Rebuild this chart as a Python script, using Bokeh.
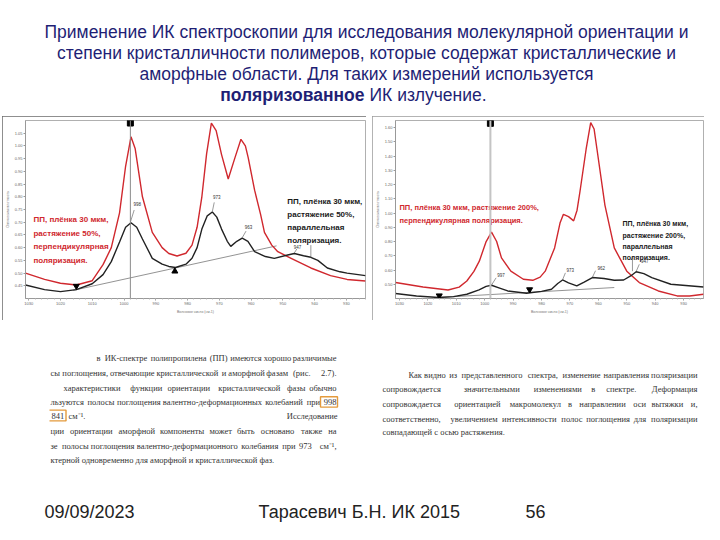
from bokeh.plotting import figure
from bokeh.layouts import column, row
from bokeh.models import Range1d, FixedTicker, NumeralTickFormatter, Spacer, Span
from bokeh.embed import file_html
from bokeh.resources import INLINE
from bokeh.core.properties import value

# ---------------- text content ----------------
TITLE_LINES = [
    "Применение ИК спектроскопии для исследования молекулярной ориентации и",
    "степени кристалличности полимеров, которые содержат кристаллические и",
    "аморфные области. Для таких измерений используется",
]
TITLE_BOLD = "поляризованное"
TITLE_TAIL = "ИК излучение."

FOOTER_DATE = "09/09/2023"
FOOTER_AUTHOR = "Тарасевич Б.Н.  ИК 2015"
FOOTER_PAGE = "56"

# left text block: a cropped scan, so line starts are cut off as in the slide
LEFT_TEXT = [
    "в ИК-спектре полипропилена (ПП) имеются хорошо различимые",
    "сы поглощения, отвечающие кристаллической и аморфной фазам (рис. 2.7).",
    "характеристики функции ориентации кристаллической фазы обычно",
    "льзуются полосы поглощения валентно-деформационных колебаний при 998",
    "841",
    "ции ориентации аморфной компоненты может быть основано также на",
    "зе полосы поглощения валентно-деформационного колебания при 973 см⁻¹,",
    "ктерной одновременно для аморфной и кристаллической фаз.",
]
LEFT_TEXT_UNIT = "см⁻¹."
LEFT_TEXT_RIGHT_WORD = "Исследование"
RIGHT_TEXT = [
    "Как видно из представленного спектра, изменение направления поляризации",
    "сопровождается значительными изменениями в спектре. Деформация",
    "сопровождается ориентацией макромолекул в направлении оси вытяжки и,",
    "соответственно, увеличением интенсивности полос поглощения для поляризации",
    "совпадающей с осью растяжения.",
]

# ---------------- spectra data ----------------
X_TICKS = [1030, 1020, 1010, 1000, 990, 980, 970, 960, 950, 940, 930]
LEFT_Y_TICKS = [0.45, 0.50, 0.55, 0.60, 0.65, 0.70, 0.75, 0.80, 0.85, 0.90, 0.95, 1.00, 1.05]
RIGHT_Y_TICKS = [0.50, 0.60, 0.70, 0.80, 0.90, 1.00, 1.10, 1.20, 1.30, 1.40, 1.50, 1.60]

# left: stretch 50 %, perpendicular (red)
L_PERP_WN = [1031, 1025, 1020, 1015, 1010, 1006.6, 1004, 1001.4, 999.5, 997.8, 996.5, 994.2,
             991.1, 988, 985.9, 983.3, 980.5, 978.6, 977, 975.5, 974, 972.5, 971, 969.3,
             967.2, 965.1, 963.2, 961.8, 960.9, 958.9, 957, 955.8, 953.5, 951.6, 947.4,
             941.2, 935, 929.8, 924]
L_PERP_A = [0.500, 0.475, 0.460, 0.453, 0.470, 0.533, 0.600, 0.737, 0.920, 1.036, 0.990, 0.800,
            0.660, 0.600, 0.577, 0.567, 0.578, 0.610, 0.680, 0.800, 0.970, 1.090, 1.060, 0.966,
            0.870, 0.953, 1.026, 1.000, 0.953, 0.826, 0.730, 0.660, 0.610, 0.584, 0.558,
            0.520, 0.490, 0.475, 0.469]
# left: stretch 50 %, parallel (black)
L_PAR_WN = [1031, 1025, 1020, 1015, 1010, 1006.6, 1004, 1001.4, 999.5, 997.8, 996, 994.2,
            991.1, 988, 985.9, 983.8, 980.5, 978.6, 977, 975.5, 973.8, 972.2, 970.8, 969.3,
            967.5, 966.4, 964.5, 962.8, 961, 958.9, 955.5, 952.7, 948.5, 946.4, 943.5,
            941.2, 939, 936, 932, 929.8, 924]
L_PAR_A = [0.453, 0.435, 0.427, 0.435, 0.458, 0.494, 0.545, 0.622, 0.680, 0.698, 0.680, 0.634,
           0.558, 0.535, 0.526, 0.522, 0.535, 0.558, 0.600, 0.673, 0.725, 0.740, 0.720, 0.673,
           0.625, 0.605, 0.625, 0.637, 0.625, 0.584, 0.565, 0.558, 0.571, 0.577, 0.568,
           0.562, 0.550, 0.520, 0.505, 0.500, 0.490]
L_BASE_WN = [1016, 952]
L_BASE_A = [0.432, 0.607]

# right: stretch 200 %, perpendicular (red)
R_PERP_WN = [1031.4, 1021.7, 1012.9, 1009, 1006.3, 1003.8, 1001.9, 999.5, 997.6, 995.8, 994.1,
             990.8, 986.4, 983.1, 980.5, 978.7, 975.4, 973.5, 972.3, 970.5, 968.7, 967.5,
             966.5, 964.3, 962.7, 961.5, 960.5, 957.7, 954.4, 950.0, 945.6, 938.9, 932.3,
             927.9, 923]
R_PERP_A = [0.512, 0.481, 0.460, 0.480, 0.523, 0.590, 0.662, 0.800, 0.866, 0.800, 0.685,
            0.592, 0.535, 0.528, 0.550, 0.592, 0.755, 0.930, 0.991, 0.975, 0.945, 1.020,
            1.148, 1.450, 1.635, 1.590, 1.450, 1.056, 0.755, 0.592, 0.512, 0.453, 0.418,
            0.418, 0.430]
# right: stretch 200 %, parallel (black)
R_PAR_WN = [1031.4, 1024, 1016.2, 1011, 1006.3, 1002, 999.5, 997.6, 995, 991.9, 985.3, 980,
            976.5, 974.3, 972.6, 970.5, 967.6, 965, 962.1, 958, 954.4, 951.1, 948.5, 946.7,
            944, 941.2, 934.5, 923]
R_PAR_A = [0.435, 0.418, 0.407, 0.413, 0.430, 0.460, 0.485, 0.493, 0.475, 0.453, 0.437, 0.450,
           0.465, 0.505, 0.530, 0.510, 0.488, 0.515, 0.547, 0.540, 0.528, 0.530, 0.560, 0.588,
           0.575, 0.547, 0.500, 0.481]
R_BASE_WN = [1016.2, 954.4]
R_BASE_A = [0.407, 0.477]

CURSOR_WN = 998
L_PEAK_LABELS = ["998", "973", "963", "947"]
R_PEAK_LABELS = ["997", "973", "962", "947"]

RED = "#d0282e"
NAVY = "#1f1f75"
SANS = value("Liberation Sans")


def spectrum(width, xr, yr, yticks, mb_left, mb_right, mb_bottom, frame_color):
    p = figure(width=width, height=204, x_range=Range1d(*xr), y_range=Range1d(*yr),
               output_backend="svg", toolbar_location=None,
               min_border_left=mb_left, min_border_right=mb_right,
               min_border_top=4, min_border_bottom=mb_bottom,
               background_fill_color="white", border_fill_color="white",
               outline_line_color="#b0b0b0",
               styles={"outline": f"1px solid {frame_color}", "outline-offset": "-1px"})
    p.grid.visible = False
    p.xaxis.ticker = FixedTicker(ticks=X_TICKS, minor_ticks=list(range(924, 1032, 2)))
    p.yaxis.ticker = FixedTicker(ticks=yticks)
    p.yaxis.formatter = NumeralTickFormatter(format="0.00")
    for ax in (p.xaxis[0], p.yaxis[0]):
        ax.major_label_text_font_size = "4px"
        ax.major_label_text_color = "#666666"
        ax.major_label_standoff = 1
        ax.major_tick_out = 2
        ax.major_tick_in = 0
        ax.minor_tick_out = 1
        ax.minor_tick_in = 0
        ax.axis_line_color = "#999999"
        ax.major_tick_line_color = "#999999"
        ax.minor_tick_line_color = "#bbbbbb"
        ax.axis_label_text_font_size = "3.5px"
        ax.axis_label_text_font_style = "normal"
        ax.axis_label_text_color = "#777777"
        ax.axis_label_standoff = 2
        ax.major_label_text_font = "Liberation Sans"
        ax.axis_label_text_font = "Liberation Sans"
    p.xaxis.axis_label = "Волновое число (см-1)"
    p.yaxis.axis_label = "Оптическая плотность"
    return p


NOTE = dict(text_font=SANS, text_font_style="bold", text_baseline="top", text_align="left")

# ---------------- left spectrum ----------------
pl = spectrum(364, (1031, 924), (0.40, 1.10), LEFT_Y_TICKS, 20, 1, 17, "#6a6a6a")
pl.add_layout(Span(location=CURSOR_WN, dimension="height", line_color="#8a8a8a", line_width=1))
pl.line(L_BASE_WN, L_BASE_A, line_color="#777777", line_width=0.8)
pl.line(L_PERP_WN, L_PERP_A, line_color=RED, line_width=1.4)
pl.line(L_PAR_WN, L_PAR_A, line_color="#222222", line_width=1.4)
pl.scatter([CURSOR_WN], [1.090], marker="square", size=6, color="black")
pl.scatter([1015], [0.449], marker="inverted_triangle", size=6, color="black")
pl.scatter([984], [0.507], marker="triangle", size=6, color="black")
pl.segment(x0=[998, 972.2, 962.8, 946.4], y0=[0.700, 0.742, 0.639, 0.579],
           x1=[996.8, 971.6, 961.6, 945.6], y1=[0.748, 0.778, 0.665, 0.595],
           line_color="#555555", line_width=0.6)
pl.segment(x0=[941.2], y0=[0.560], x1=[941.2], y1=[0.610], line_color="#555555", line_width=0.6)
pl.text(x=[997, 972, 962, 946.6], y=[0.770, 0.800, 0.680, 0.602], text=L_PEAK_LABELS,
        text_font_size="4.5px", text_color="#333333", text_baseline="middle", text_font=SANS)
pl.text(x=[1028.5], y=[0.728],
        text=["ПП, плёнка 30 мкм,\nрастяжение 50%,\nперпендикулярная\nполяризация."],
        text_font_size="8px", text_color=RED, text_line_height=1.5, **NOTE)
pl.text(x=[948.6], y=[0.798],
        text=["ПП, плёнка 30 мкм,\nрастяжение  50%,\nпараллельная\nполяризация."],
        text_font_size="8px", text_color="#1a1a1a", text_line_height=1.45, **NOTE)

# ---------------- right spectrum ----------------
pr = spectrum(332, (1031.4, 923), (0.40, 1.65), RIGHT_Y_TICKS, 19, 1, 22, "#9a9a9a")
pr.add_layout(Span(location=CURSOR_WN, dimension="height", line_color="#c4c4c4", line_width=2))
pr.line(R_BASE_WN, R_BASE_A, line_color="#777777", line_width=0.8)
pr.line(R_PERP_WN, R_PERP_A, line_color=RED, line_width=1.4)
pr.line(R_PAR_WN, R_PAR_A, line_color="#222222", line_width=1.4)
pr.scatter([CURSOR_WN], [1.630], marker="square", size=6, color="black")
pr.scatter([1016, 984.2], [0.420, 0.463], marker="inverted_triangle", size=6, color="black")
pr.segment(x0=[997.6, 972.6, 962.1, 946.7], y0=[0.495, 0.532, 0.549, 0.590],
           x1=[996.0, 971.6, 961.0, 945.6], y1=[0.545, 0.580, 0.595, 0.640],
           line_color="#555555", line_width=0.6)
pr.segment(x0=[948], y0=[0.592], x1=[948], y1=[0.690], line_color="#555555", line_width=0.6)
pr.text(x=[995.6, 971.2, 960.3, 945], y=[0.565, 0.600, 0.615, 0.660], text=R_PEAK_LABELS,
        text_font_size="4.5px", text_color="#333333", text_baseline="middle", text_font=SANS)
pr.text(x=[1030], y=[1.068],
        text=["ПП, плёнка 30 мкм, растяжение 200%,\nперпендикулярная поляризация."],
        text_font_size="7.5px", text_color=RED, text_line_height=1.42, **NOTE)
pr.text(x=[951.5], y=[0.950],
        text=["ПП, плёнка 30 мкм,\nрастяжение 200%,\nпараллельная\nполяризация."],
        text_font_size="7px", text_color="#1a1a1a", text_line_height=1.62, **NOTE)


# ---------------- plain canvases for slide text ----------------
def canvas(height, y_top, y_bottom):
    c = figure(width=704, height=height, x_range=Range1d(0, 704), y_range=Range1d(y_bottom, y_top),
               output_backend="svg", toolbar_location=None,
               x_axis_location=None, y_axis_location=None,
               min_border=0, min_border_left=0, min_border_right=0,
               min_border_top=0, min_border_bottom=0, outline_line_color=None,
               background_fill_color="white", border_fill_color="white")
    c.grid.visible = False
    return c


pt = canvas(116, 0, 116)
TITLE = dict(text_font=SANS, text_font_size="17.5px", text_color=NAVY, text_baseline="middle")
for i, line in enumerate(TITLE_LINES):
    pt.text(x=[366], y=[31 + 21 * i], text=[line], text_align="center", **TITLE)
pt.text(x=[364], y=[94], text=[TITLE_BOLD], text_align="right", text_font_style="bold", **TITLE)
pt.text(x=[369], y=[94], text=[TITLE_TAIL], text_align="left", **TITLE)

pb = canvas(168, 320, 488)
BODY = dict(text_font=value("Liberation Serif"), text_font_size="8.5px", text_color="#333333",
            text_baseline="middle")


def put_line(p, line, x0, x1, y, justify):
    if not justify:
        p.text(x=[x0], y=[y], text=[line], text_align="left", **BODY)
        return
    words = line.split(" ")
    total = len(line)
    pos = 0
    mids_x, mids_t = [], []
    for k, w in enumerate(words):
        if k == 0:
            p.text(x=[x0], y=[y], text=[w], text_align="left", **BODY)
        elif k == len(words) - 1:
            p.text(x=[x1], y=[y], text=[w], text_align="right", **BODY)
        else:
            mids_x.append(x0 + (x1 - x0) * (pos + len(w) / 2) / total)
            mids_t.append(w)
        pos += len(w) + 1
    if mids_t:
        p.text(x=mids_x, y=[y] * len(mids_t), text=mids_t, text_align="center", **BODY)


L_Y = [357, 372, 387, 401, 415, 430, 445, 459]
L_X0 = [96, 50, 63, 50, 51, 50, 50, 50]
L_JUST = [True, True, True, True, False, True, True, False]
for line, y, x0, j in zip(LEFT_TEXT, L_Y, L_X0, L_JUST):
    put_line(pb, line, x0, 336, y, j)
pb.text(x=[68], y=[415], text=[LEFT_TEXT_UNIT], text_align="left", **BODY)
pb.text(x=[337], y=[415], text=[LEFT_TEXT_RIGHT_WORD], text_align="right", **BODY)
pb.quad(left=[320], right=[337], top=[396.2], bottom=[406.6],
        fill_color=None, line_color="#e49a3c", line_width=1.4)
pb.line(x=[49, 65.5, 65.5, 49], y=[409.6, 409.6, 420.4, 420.4], line_color="#e49a3c", line_width=1.4)

R_Y = [374, 388, 403, 418, 431]
R_X0 = [408, 382, 382, 382, 382]
R_JUST = [True, True, True, True, False]
for line, y, x0, j in zip(RIGHT_TEXT, R_Y, R_X0, R_JUST):
    put_line(pb, line, x0, 697, y, j)

pf = canvas(36, 488, 524)
FOOT = dict(text_font=SANS, text_font_size="18px", text_color="#222222",
            text_baseline="middle", text_align="left")
pf.text(x=[44], y=[511], text=[FOOTER_DATE], **FOOT)
pf.text(x=[258], y=[511], text=[FOOTER_AUTHOR], **FOOT)
pf.text(x=[525], y=[511], text=[FOOTER_PAGE], **FOOT)

charts = row(Spacer(width=2, height=204), pl, Spacer(width=6, height=204), pr, spacing=0)
layout = column(pt, charts, pb, pf, spacing=0)

open("out.html", "w").write(file_html(layout, INLINE))
